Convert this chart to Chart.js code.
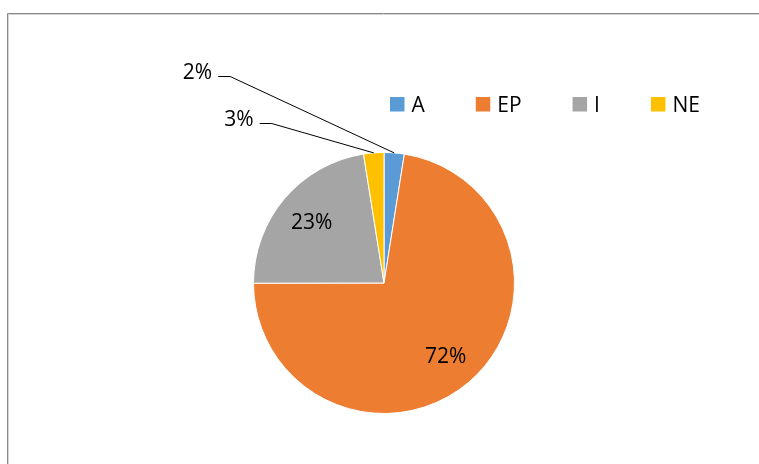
<!DOCTYPE html>
<html>
<head>
<meta charset="utf-8">
<script src="https://cdn.jsdelivr.net/npm/chart.js@4.4.0/dist/chart.umd.min.js"></script>
<style>
  html, body { margin: 0; padding: 0; background: #fff; }
</style>
</head>
<body>
<canvas id="pieChart" width="759" height="464"></canvas>
<script>
var labels = ['A', 'EP', 'I', 'NE'];
var shares = [2.49, 72.49, 22.51, 2.51]; // percent of total
var colors = ['#5B9BD5', '#ED7D31', '#A5A5A5', '#FFC000'];
// small slices get their label pulled out on a leader line (elbow offset from the arc edge)
var callouts = { 0: [-164, -77], 3: [-102, -30] };

var FONT = '21px "Open Sans", sans-serif';

var excelLabels = {
    id: 'excelLabels',
    beforeDraw: function (chart) {
        // the sheet frame peeking in on the left and top
        var ctx = chart.ctx;
        ctx.save();
        ctx.lineWidth = 1;
        ctx.strokeStyle = '#8a8a8a';
        ctx.beginPath();
        ctx.moveTo(7.5, chart.height);
        ctx.lineTo(7.5, 13.5);
        ctx.lineTo(chart.width, 13.5);
        ctx.stroke();
        ctx.strokeStyle = '#d4d4d4';
        ctx.beginPath();
        ctx.moveTo(8.5, chart.height);
        ctx.lineTo(8.5, 14.5);
        ctx.lineTo(chart.width, 14.5);
        ctx.stroke();
        ctx.restore();
    },
    afterDatasetsDraw: function (chart) {
        var ctx = chart.ctx;
        var meta = chart.getDatasetMeta(0);
        ctx.save();
        ctx.font = FONT;
        ctx.fillStyle = '#000';
        ctx.strokeStyle = '#000';
        ctx.lineWidth = 1;
        meta.data.forEach(function (arc, i) {
            var p = arc.getProps(['x', 'y', 'startAngle', 'endAngle', 'outerRadius']);
            var mid = (p.startAngle + p.endAngle) / 2;
            var txt = Math.round(shares[i]) + '%';
            if (callouts[i]) {
                var ax = p.x + Math.cos(mid) * p.outerRadius;
                var ay = p.y + Math.sin(mid) * p.outerRadius;
                var ex = ax + callouts[i][0];
                var ey = Math.round(ay + callouts[i][1]) + 0.5;
                ctx.beginPath();
                ctx.moveTo(ax, ay);
                ctx.lineTo(ex, ey);
                ctx.lineTo(ex - 12, ey);
                ctx.stroke();
                ctx.textAlign = 'right';
                ctx.textBaseline = 'alphabetic';
                ctx.fillText(txt, ex - 18, ey + 2);
            } else {
                var r = p.outerRadius * 0.728;
                ctx.textAlign = 'center';
                ctx.textBaseline = 'alphabetic';
                ctx.fillText(txt, p.x + Math.cos(mid) * r, p.y + Math.sin(mid) * r + 7.5);
            }
        });
        ctx.restore();
    },
    afterDraw: function (chart) {
        // legend row, Excel style
        var ctx = chart.ctx;
        ctx.save();
        ctx.font = FONT;
        ctx.textAlign = 'left';
        ctx.textBaseline = 'alphabetic';
        var x = 390, y = 97, box = 14.5;
        labels.forEach(function (lab, i) {
            ctx.fillStyle = colors[i];
            ctx.fillRect(x, y, box, box);
            ctx.fillStyle = '#000';
            ctx.fillText(lab, x + box + 7, y + box);
            x += box + 7 + ctx.measureText(lab).width + 51;
        });
        ctx.restore();
    }
};

var ctx = document.getElementById('pieChart').getContext('2d');
var mychart = new Chart(ctx, {
    type: 'pie',
    data: {
        labels: labels,
        datasets: [{
            data: shares,
            backgroundColor: colors,
            borderColor: '#ffffff',
            borderWidth: 1,
            hoverOffset: 0
        }]
    },
    options: {
        responsive: false,
        animation: false,
        layout: {
            padding: { top: 152, bottom: 50, left: 253, right: 244 }
        },
        plugins: {
            legend: { display: false },
            tooltip: { enabled: false }
        }
    },
    plugins: [excelLabels]
});
</script>
</body>
</html>
